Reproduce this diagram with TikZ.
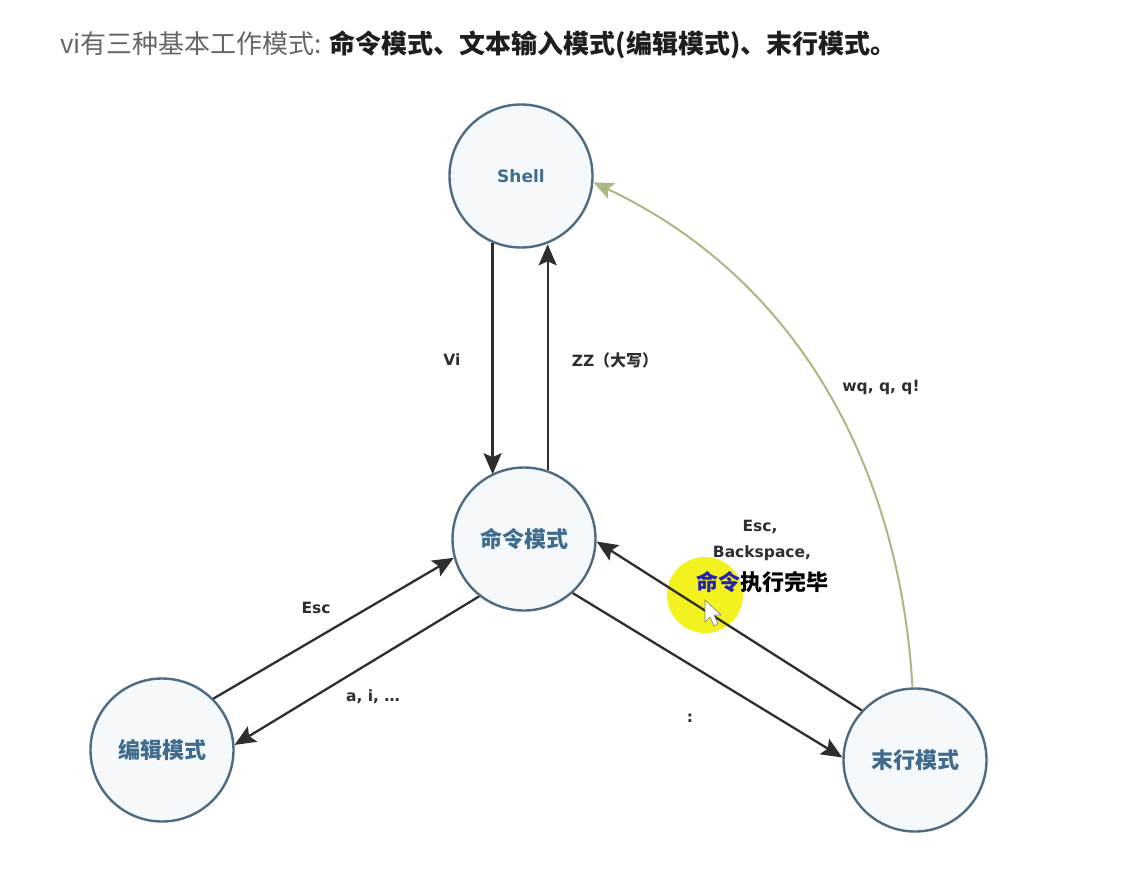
\documentclass[tikz,border=0pt]{standalone}
\usepackage{fontspec}
\setmainfont{DejaVu Sans}
\newfontfamily\cjk{Noto Sans CJK SC}
\usetikzlibrary{arrows.meta}
\definecolor{ringc}{HTML}{4F6B82}
\definecolor{fillc}{HTML}{F6F9FC}
\definecolor{ntext}{HTML}{3F6C8E}
\definecolor{arrc}{HTML}{2E2E2E}
\definecolor{greenc}{HTML}{ABB883}
\definecolor{titlegray}{HTML}{666666}
\definecolor{titledark}{HTML}{1E1E1E}
\definecolor{hiyellow}{HTML}{F2F21E}
\definecolor{cmdblue}{HTML}{2323B4}
\begin{document}
\begin{tikzpicture}[x=1pt,y=-1pt,
 state/.style={circle,draw=ringc,line width=2.4pt,fill=fillc,minimum size=143pt,inner sep=0pt,text=ntext,font=\cjk\bfseries\fontsize{22}{22}\selectfont},
 flow/.style={draw=arrc,line width=2.3pt,-{Stealth[length=21pt,width=18pt,inset=4pt]}},
 back/.style={draw=greenc,line width=2pt,-{Stealth[length=20pt,width=17pt,inset=4pt]}},
 lbl/.style={text=arrc,font=\bfseries\fontsize{15.5}{18}\selectfont,inner sep=0pt}]
\useasboundingbox (0,0) rectangle (1139,872);
\fill[white] (0,0) rectangle (1139,872);
% cursor highlight
\fill[hiyellow] (705,595) circle[radius=38];
% title
\node[anchor=west,inner sep=0pt] (title) at (60,45) {\cjk\fontsize{26}{26}\selectfont\color{titlegray}vi有三种基本工作模式: \color{titledark}\bfseries 命令模式、文本输入模式(编辑模式)、末行模式。};
% states
\node[state,font=\bfseries\fontsize{17}{17}\selectfont] (shell) at (521,176) {Shell};
\node[state] (cmd) at (524,539) {命令模式};
\node[state] (edit) at (162,750) {编辑模式};
\node[state] (last) at (915,760) {末行模式};
% connectors
\draw[flow] (shell.247) -- (shell.247 |- cmd.117);
\draw[flow] (cmd.71) -- (cmd.71 |- shell.290);
\draw[flow] (edit.45) -- (cmd.195);
\draw[flow] (cmd.232) -- (edit.4);
\draw[flow] (cmd.312) -- (last.178);
\draw[flow] (last.137) -- (cmd.358);
\draw[back] (last.92) .. controls (900,470) and (800,280) .. (shell.355);
% labels
\node[lbl] (lvi) at (452,360) {Vi};
\node[lbl] (lzz) at (615,360) {ZZ{\cjk\fontsize{16}{16}\selectfont （大写）}};
\node[lbl] (lesc) at (316,608) {Esc};
\node[lbl] (lai) at (373,697) {a, i, …};
\node[lbl] (lcolon) at (690,718) {:};
\node[lbl] (lwq) at (881,387) {wq, q, q!};
\node[lbl] (lesc2) at (760,527) {Esc,};
\node[lbl] (lbs) at (762,553) {Backspace,};
\node[inner sep=0pt,font=\cjk\bfseries\fontsize{22}{22}\selectfont] (ldone) at (762,582) {\textcolor{cmdblue}{命令}执行完毕};
% mouse pointer
\filldraw[fill=white,draw=gray,line width=0.6pt] (705,600) -- (705,622) -- (710,617) -- (714,626) -- (718,624) -- (714,615) -- (721,615) -- cycle;
\end{tikzpicture}
\end{document}
